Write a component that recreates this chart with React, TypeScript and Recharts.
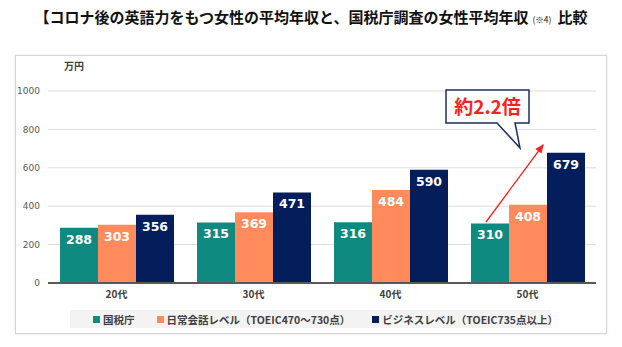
import { BarChart, Bar, XAxis, YAxis, CartesianGrid, LabelList } from 'recharts';

const ages = ['20代', '30代', '40代', '50代'];
const ntaValues = [288, 315, 316, 310];
const dailyValues = [303, 369, 484, 408];
const businessValues = [356, 471, 590, 679];
const yTicks = [0, 200, 400, 600, 800, 1000];

const seriesNames = ['国税庁', '日常会話レベル（TOEIC470～730点）', 'ビジネスレベル（TOEIC735点以上）'];
const COLORS = ['#0E8A80', '#FF8B5C', '#031E5A'];

const JP = '"Noto Sans CJK JP", "Noto Sans", sans-serif';
const NUM = '"DejaVu Sans", Verdana, sans-serif';

const data = ages.map((age, i) => ({
  age,
  nta: ntaValues[i],
  daily: dailyValues[i],
  business: businessValues[i],
}));

const keys = ['nta', 'daily', 'business'];

export default function App() {
  return (
    <div style={{ position: 'absolute', left: 0, top: 0, width: 622, height: 347, background: '#fff', fontFamily: JP }}>
      {/* title */}
      <div
        style={{
          position: 'absolute',
          left: 0,
          top: 6,
          width: 622,
          textAlign: 'center',
          fontSize: 15,
          fontWeight: 700,
          color: '#111',
          whiteSpace: 'nowrap',
        }}
      >
        【コロナ後の英語力をもつ女性の平均年収と、国税庁調査の女性平均年収
        <span style={{ fontSize: 8.5, fontWeight: 400, margin: '0 6px 0 4px' }}>(※4)</span>
        比較
      </div>

      {/* card frame */}
      <div
        style={{
          position: 'absolute',
          left: 15,
          top: 55,
          width: 590,
          height: 277,
          border: '1px solid #d6d6d6',
          boxShadow: '0 0 2px rgba(0,0,0,0.12)',
          background: '#fff',
        }}
      />

      <div style={{ position: 'absolute', left: 64, top: 58, fontSize: 10, fontWeight: 700, color: '#404040' }}>万円</div>

      <div style={{ position: 'absolute', left: 0, top: 0 }}>
        <BarChart
          width={622}
          height={347}
          data={data}
          margin={{ top: 91, right: 26, bottom: 34, left: 8 }}
          barCategoryGap={12}
          barGap={0}
        >
          <CartesianGrid vertical={false} stroke="#dcdcdc" strokeWidth={1} />
          <XAxis
            dataKey="age"
            height={30}
            tickLine={false}
            axisLine={{ stroke: '#595959', strokeWidth: 2 }}
            tick={{ fontSize: 10, fontWeight: 700, fill: '#404040', fontFamily: JP }}
          />
          <YAxis
            width={40}
            domain={[0, 1000]}
            ticks={yTicks}
            tickLine={false}
            axisLine={false}
            tick={{ fontSize: 9, fill: '#595959', fontFamily: NUM }}
          />
          {keys.map((k, i) => (
            <Bar key={k} dataKey={k} name={seriesNames[i]} fill={COLORS[i]} isAnimationActive={false}>
              <LabelList
                dataKey={k}
                position="insideTop"
                offset={7}
                fill="#fff"
                style={{ fontSize: 12.5, fontWeight: 700, fontFamily: NUM }}
              />
            </Bar>
          ))}
        </BarChart>
      </div>

      {/* legend */}
      <div
        style={{
          position: 'absolute',
          left: 70,
          top: 310,
          width: 481,
          height: 18,
          background: '#f3f3f3',
          display: 'flex',
          alignItems: 'center',
          fontSize: 10.5,
          fontWeight: 700,
          color: '#404040',
          whiteSpace: 'nowrap',
        }}
      >
        {seriesNames.map((n, i) => (
          <div key={n} style={{ display: 'flex', alignItems: 'center', marginLeft: i === 0 ? 23 : 22 }}>
            <span style={{ display: 'inline-block', width: 7, height: 7, background: COLORS[i], marginRight: 3 }} />
            <span>{n}</span>
          </div>
        ))}
      </div>

      {/* callout + arrow */}
      <svg style={{ position: 'absolute', left: 0, top: 0 }} width={622} height={347}>
        <defs>
          <marker id="ah" markerWidth="8" markerHeight="8" refX="6" refY="4" orient="auto">
            <path d="M0,1 L7,4 L0,7 Z" fill="#FF1E1E" />
          </marker>
        </defs>
        <line x1={486} y1={222} x2={543} y2={145} stroke="#FF1E1E" strokeWidth={1.3} markerEnd="url(#ah)" />
        <path
          d="M446,90 L529,90 L529,123 L515,123 L520,148 L497,123 L446,123 Z"
          fill="#fff"
          stroke="#1F2F5C"
          strokeWidth={1.5}
          strokeLinejoin="miter"
        />
        <text x={487.5} y={114} textAnchor="middle" fill="#FF1E1E" fontSize={19} fontWeight={700} fontFamily={JP}>
          約2.2倍
        </text>
      </svg>
    </div>
  );
}
